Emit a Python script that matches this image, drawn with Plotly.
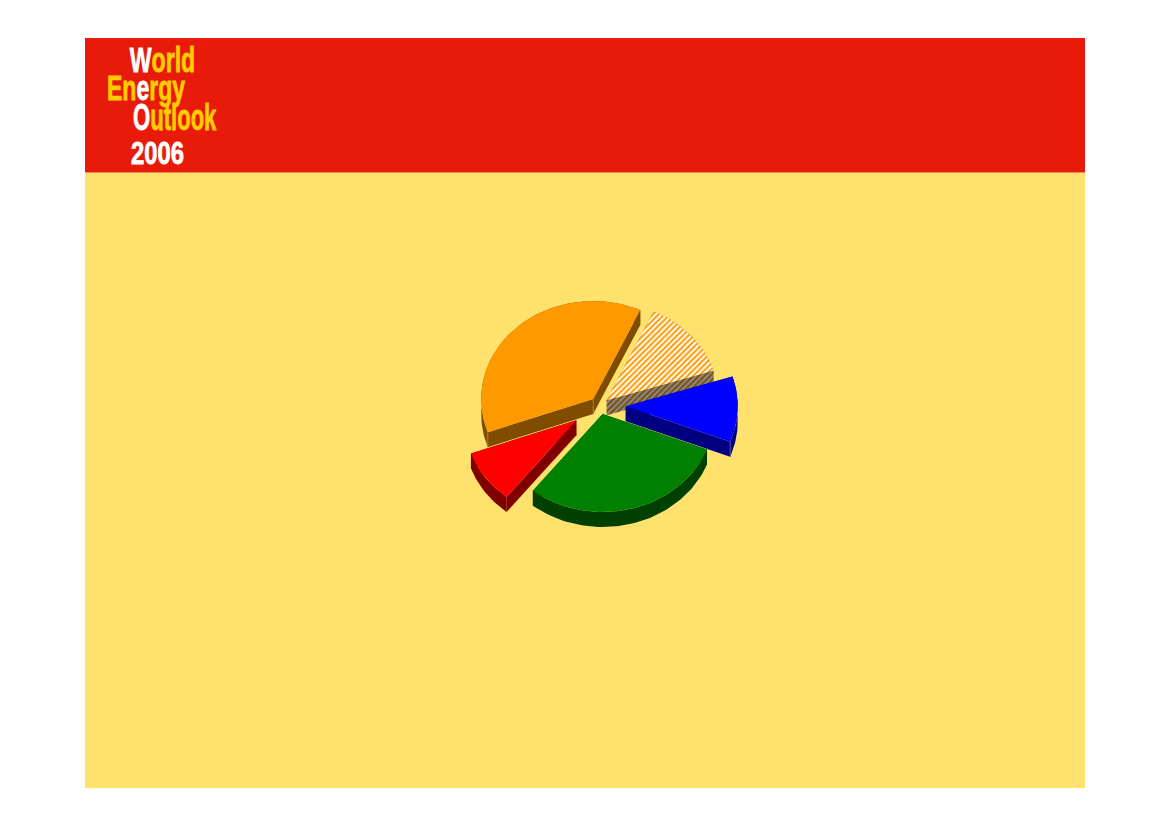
import json
import math
import plotly.graph_objects as go

# ---- data ----
segments = ["Orange", "Hatched", "Blue", "Green", "Red"]
shares = [37.4, 13.2, 10.8, 29.8, 8.8]
pulls = [0.09, 0.08, 0.23, 0.09, 0.26]
top_colors = ["#FF9900", None, "#0000FF", "#008000", "#FF0000"]
side_colors = ["#804D00", None, "#000080", "#004000", "#800000"]
edge_colors = ["#A87A30", None, "#5050A0", None, None]
draw_order = [0, 1, 2, 4, 3]
first_slice_start_deg = 250.2  # orange starts here, clockwise

# ---- page geometry ----
W, H = 1169, 827
CX, CY = 600.0, 405.5
RX, RY = 112.0, 98.0
DEPTH = 15.0


def pt(cx, cy, deg):
    a = math.radians(deg)
    return cx + RX * math.sin(a), cy - RY * math.cos(a)


def arc(cx, cy, a0, a1):
    n = max(2, int(abs(a1 - a0) / 1.5))
    return [pt(cx, cy, a0 + (a1 - a0) * i / n) for i in range(n + 1)]


def closed_xy(p):
    closed = p + [p[0]]
    return [q[0] for q in closed], [q[1] for q in closed]


fig = go.Figure()
total = sum(shares)
starts, a = [], first_slice_start_deg
for s in shares:
    starts.append(a)
    a += 360 * s / total


def add_poly(poly, name, style):
    x, y = closed_xy(poly)
    fig.add_trace(go.Scatter(x=x, y=y, mode="lines", fill="toself", line=dict(width=0),
                             name=name, hoverinfo="skip", showlegend=False, **style))


for i in draw_order:
    a0 = starts[i]
    a1 = a0 + 360 * shares[i] / total
    mid = (a0 + a1) / 2
    mx, my = pt(0, 0, mid)
    cx, cy = CX + pulls[i] * mx, CY + pulls[i] * my
    rim = arc(cx, cy, a0, a1)
    down = lambda q: (q[0], q[1] + DEPTH)
    faces = [[(cx, cy), rim[0], down(rim[0]), down((cx, cy))],
             [(cx, cy), rim[-1], down(rim[-1]), down((cx, cy))],
             rim + [down(q) for q in reversed(rim)]]
    if top_colors[i] is None:
        side = dict(fillpattern=dict(shape="/", fgcolor="#7A4E08", bgcolor="#8C8C8C", fgopacity=1,
                                     fillmode="replace", size=4, solidity=0.5), fillcolor="#8C8C8C")
        top = dict(fillpattern=dict(shape="/", fgcolor="#FF9900", bgcolor="#FFFFFF", fgopacity=1,
                                    fillmode="replace", size=4, solidity=0.5), fillcolor="#FFFFFF")
    else:
        side = dict(fillcolor=side_colors[i])
        top = dict(fillcolor=top_colors[i])
    for face in faces:
        add_poly(face, segments[i] + " side", side)
    if edge_colors[i]:
        ex = [cx, cx, None, rim[0][0], rim[0][0]] if i == 0 else [rim[-1][0], rim[-1][0]]
        ey = [cy, cy + DEPTH, None, rim[0][1], rim[0][1] + DEPTH] if i == 0 else [rim[-1][1], rim[-1][1] + DEPTH]
        fig.add_trace(go.Scatter(x=ex, y=ey, mode="lines", line=dict(width=1, color=edge_colors[i]),
                                 hoverinfo="skip", showlegend=False))
    add_poly([(cx, cy)] + rim, segments[i], top)

Y = "#FFCC00"
Wt = "#FFFFFF"


def logo(x, y, size, parts):
    html = "".join(f'<span style="color:{c}">{t}</span>' for t, c in parts)
    return dict(x=x, y=y, xref="x", yref="y", xanchor="left", yanchor="middle", showarrow=False,
                text=f"<b>{html}</b>", font=dict(family="Liberation Sans", size=size))


logo_widths = [65, 78, 84, 53]

fig.update_layout(
    width=W, height=H, margin=dict(l=0, r=0, t=0, b=0),
    paper_bgcolor="#FFFFFF", plot_bgcolor="rgba(0,0,0,0)", showlegend=False,
    xaxis=dict(range=[0, W], visible=False, fixedrange=True),
    yaxis=dict(range=[H, 0], visible=False, fixedrange=True),
    shapes=[
        dict(type="rect", xref="x", yref="y", x0=85, x1=1085, y0=172.5, y1=788,
             fillcolor="#FFE16D", line_width=0, layer="below"),
        dict(type="rect", xref="x", yref="y", x0=85, x1=1085, y0=38, y1=172.5,
             fillcolor="#E81B0A", line_width=0, layer="below"),
    ],
    annotations=[
        logo(128, 59, 36, [("W", Wt), ("orld", Y)]),
        logo(105, 87, 36, [("En", Y), ("e", Wt), ("rgy", Y)]),
        logo(131, 117, 36, [("O", Wt), ("utlook", Y)]),
        logo(129, 153, 32, [("2006", Wt)]),
    ],
)

post = """
document.body.style.margin='0';document.body.style.overflow='hidden';
var widths=%s;
function squeeze(){
  var els=document.querySelectorAll('.annotation-text');
  if(els.length<widths.length){setTimeout(squeeze,20);return;}
  els.forEach(function(el,i){
    var b=el.getBBox();var s=widths[i]/b.width;
    el.setAttribute('transform','translate('+b.x+',0) scale('+s+',1) translate('+(-b.x)+',0)');
    el.querySelectorAll('tspan').forEach(function(t){
      if(t.style.fill){t.style.stroke=t.style.fill;t.style.strokeWidth='0.8px';}
    });
  });
}
squeeze();
""" % json.dumps(logo_widths)

fig.write_html("out.html", config=dict(displayModeBar=False), post_script=post)
